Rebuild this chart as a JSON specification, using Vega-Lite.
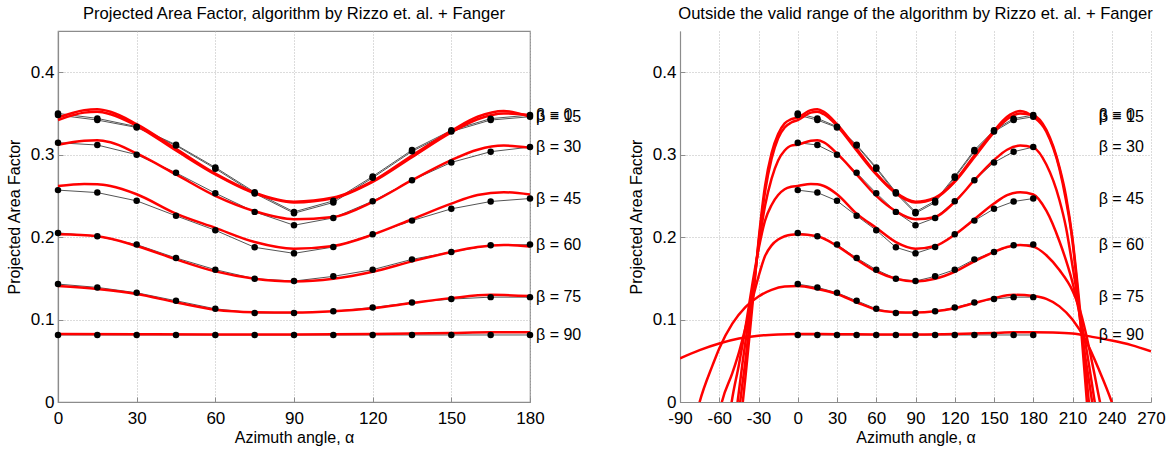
{
  "$schema": "https://vega.github.io/schema/vega-lite/v6.json",
  "background": "white",
  "padding": {"left": 5, "top": 5, "right": 5, "bottom": 5},
  "config": {
    "font": "Liberation Sans",
    "view": {"stroke": null},
    "title": {"fontSize": 16.6, "fontWeight": "normal", "font": "Liberation Sans", "offset": 8, "color": "black"},
    "axis": {
      "labelFont": "Liberation Sans", "titleFont": "Liberation Sans",
      "labelFontSize": 17, "titleFontSize": 16, "titleFontWeight": "normal",
      "labelColor": "black", "titleColor": "black", "labelOverlap": false, "labelFlush": false,
      "grid": true, "gridDash": [1, 2], "gridColor": "#b8b8b8", "gridWidth": 1,
      "domainColor": "#8c8c8c", "domainWidth": 1.2,
      "ticks": true, "tickSize": -5, "tickColor": "#8c8c8c", "titlePadding": 4
    }
  },
  "datasets": {
    "red": [
      {"b": 0, "a": -50, "v": -0.12}, {"b": 0, "a": -44, "v": -0.03}, {"b": 0, "a": -42, "v": 0}, {"b": 0, "a": -40, "v": 0.03}, {"b": 0, "a": -37, "v": 0.078}, {"b": 0, "a": -33, "v": 0.145}, {"b": 0, "a": -30, "v": 0.195}, {"b": 0, "a": -25, "v": 0.262}, {"b": 0, "a": -20, "v": 0.302}, {"b": 0, "a": -15, "v": 0.325}, {"b": 0, "a": -10, "v": 0.338}, {"b": 0, "a": -5, "v": 0.343}, {"b": 0, "a": 0, "v": 0.345}, {"b": 0, "a": 10, "v": 0.354}, {"b": 0, "a": 15, "v": 0.355}, {"b": 0, "a": 20, "v": 0.352}, {"b": 0, "a": 30, "v": 0.337}, {"b": 0, "a": 45, "v": 0.307}, {"b": 0, "a": 60, "v": 0.277}, {"b": 0, "a": 75, "v": 0.254}, {"b": 0, "a": 90, "v": 0.243}, {"b": 0, "a": 105, "v": 0.248}, {"b": 0, "a": 120, "v": 0.268}, {"b": 0, "a": 135, "v": 0.299}, {"b": 0, "a": 150, "v": 0.329}, {"b": 0, "a": 160, "v": 0.346}, {"b": 0, "a": 170, "v": 0.353}, {"b": 0, "a": 180, "v": 0.346}, {"b": 0, "a": 190, "v": 0.328}, {"b": 0, "a": 200, "v": 0.283}, {"b": 0, "a": 205, "v": 0.245}, {"b": 0, "a": 210, "v": 0.195}, {"b": 0, "a": 213, "v": 0.15}, {"b": 0, "a": 217, "v": 0.08}, {"b": 0, "a": 221, "v": 0}, {"b": 0, "a": 225, "v": -0.08}, {"b": 0, "a": 230, "v": -0.2},
      {"b": 15, "a": -50, "v": -0.1}, {"b": 15, "a": -44, "v": 0}, {"b": 15, "a": -40, "v": 0.05}, {"b": 15, "a": -37, "v": 0.092}, {"b": 15, "a": -33, "v": 0.148}, {"b": 15, "a": -30, "v": 0.192}, {"b": 15, "a": -25, "v": 0.255}, {"b": 15, "a": -20, "v": 0.295}, {"b": 15, "a": -15, "v": 0.32}, {"b": 15, "a": -10, "v": 0.333}, {"b": 15, "a": -5, "v": 0.339}, {"b": 15, "a": 0, "v": 0.342}, {"b": 15, "a": 10, "v": 0.351}, {"b": 15, "a": 15, "v": 0.352}, {"b": 15, "a": 20, "v": 0.349}, {"b": 15, "a": 30, "v": 0.335}, {"b": 15, "a": 45, "v": 0.305}, {"b": 15, "a": 60, "v": 0.276}, {"b": 15, "a": 75, "v": 0.253}, {"b": 15, "a": 90, "v": 0.242}, {"b": 15, "a": 105, "v": 0.247}, {"b": 15, "a": 120, "v": 0.267}, {"b": 15, "a": 135, "v": 0.297}, {"b": 15, "a": 150, "v": 0.327}, {"b": 15, "a": 160, "v": 0.343}, {"b": 15, "a": 170, "v": 0.35}, {"b": 15, "a": 180, "v": 0.348}, {"b": 15, "a": 190, "v": 0.33}, {"b": 15, "a": 200, "v": 0.285}, {"b": 15, "a": 205, "v": 0.25}, {"b": 15, "a": 210, "v": 0.198}, {"b": 15, "a": 214, "v": 0.14}, {"b": 15, "a": 218, "v": 0.075}, {"b": 15, "a": 222.5, "v": 0}, {"b": 15, "a": 227, "v": -0.08}, {"b": 15, "a": 232, "v": -0.2},
      {"b": 30, "a": -52, "v": -0.08}, {"b": 30, "a": -46, "v": 0}, {"b": 30, "a": -42, "v": 0.05}, {"b": 30, "a": -38, "v": 0.095}, {"b": 30, "a": -33, "v": 0.152}, {"b": 30, "a": -30, "v": 0.188}, {"b": 30, "a": -25, "v": 0.238}, {"b": 30, "a": -20, "v": 0.271}, {"b": 30, "a": -15, "v": 0.293}, {"b": 30, "a": -10, "v": 0.305}, {"b": 30, "a": -5, "v": 0.311}, {"b": 30, "a": 0, "v": 0.312}, {"b": 30, "a": 10, "v": 0.317}, {"b": 30, "a": 15, "v": 0.3175}, {"b": 30, "a": 20, "v": 0.315}, {"b": 30, "a": 30, "v": 0.3015}, {"b": 30, "a": 45, "v": 0.276}, {"b": 30, "a": 60, "v": 0.25}, {"b": 30, "a": 75, "v": 0.2314}, {"b": 30, "a": 90, "v": 0.2217}, {"b": 30, "a": 105, "v": 0.2245}, {"b": 30, "a": 120, "v": 0.2428}, {"b": 30, "a": 135, "v": 0.269}, {"b": 30, "a": 150, "v": 0.2934}, {"b": 30, "a": 160, "v": 0.306}, {"b": 30, "a": 170, "v": 0.311}, {"b": 30, "a": 180, "v": 0.3085}, {"b": 30, "a": 190, "v": 0.288}, {"b": 30, "a": 200, "v": 0.245}, {"b": 30, "a": 205, "v": 0.212}, {"b": 30, "a": 210, "v": 0.165}, {"b": 30, "a": 213, "v": 0.135}, {"b": 30, "a": 217, "v": 0.085}, {"b": 30, "a": 225, "v": 0}, {"b": 30, "a": 230, "v": -0.06}, {"b": 30, "a": 235, "v": -0.15},
      {"b": 45, "a": -56, "v": -0.07}, {"b": 45, "a": -50.5, "v": 0}, {"b": 45, "a": -45, "v": 0.045}, {"b": 45, "a": -40, "v": 0.09}, {"b": 45, "a": -35, "v": 0.14}, {"b": 45, "a": -30, "v": 0.185}, {"b": 45, "a": -25, "v": 0.22}, {"b": 45, "a": -20, "v": 0.239}, {"b": 45, "a": -15, "v": 0.251}, {"b": 45, "a": -10, "v": 0.258}, {"b": 45, "a": -5, "v": 0.261}, {"b": 45, "a": 0, "v": 0.262}, {"b": 45, "a": 10, "v": 0.2645}, {"b": 45, "a": 15, "v": 0.2642}, {"b": 45, "a": 20, "v": 0.262}, {"b": 45, "a": 30, "v": 0.252}, {"b": 45, "a": 45, "v": 0.2285}, {"b": 45, "a": 60, "v": 0.2112}, {"b": 45, "a": 75, "v": 0.194}, {"b": 45, "a": 90, "v": 0.186}, {"b": 45, "a": 105, "v": 0.1893}, {"b": 45, "a": 120, "v": 0.203}, {"b": 45, "a": 135, "v": 0.2217}, {"b": 45, "a": 150, "v": 0.2407}, {"b": 45, "a": 160, "v": 0.251}, {"b": 45, "a": 170, "v": 0.2545}, {"b": 45, "a": 180, "v": 0.2517}, {"b": 45, "a": 190, "v": 0.232}, {"b": 45, "a": 200, "v": 0.195}, {"b": 45, "a": 205, "v": 0.172}, {"b": 45, "a": 210, "v": 0.145}, {"b": 45, "a": 215, "v": 0.11}, {"b": 45, "a": 220, "v": 0.07}, {"b": 45, "a": 227, "v": 0}, {"b": 45, "a": 232, "v": -0.05}, {"b": 45, "a": 240, "v": -0.15},
      {"b": 60, "a": -65, "v": -0.06}, {"b": 60, "a": -58, "v": 0}, {"b": 60, "a": -50, "v": 0.035}, {"b": 60, "a": -45, "v": 0.06}, {"b": 60, "a": -40, "v": 0.09}, {"b": 60, "a": -35, "v": 0.122}, {"b": 60, "a": -30, "v": 0.152}, {"b": 60, "a": -25, "v": 0.177}, {"b": 60, "a": -20, "v": 0.19}, {"b": 60, "a": -15, "v": 0.197}, {"b": 60, "a": -10, "v": 0.201}, {"b": 60, "a": -5, "v": 0.203}, {"b": 60, "a": 0, "v": 0.2034}, {"b": 60, "a": 15, "v": 0.201}, {"b": 60, "a": 30, "v": 0.1893}, {"b": 60, "a": 45, "v": 0.173}, {"b": 60, "a": 60, "v": 0.1584}, {"b": 60, "a": 75, "v": 0.1495}, {"b": 60, "a": 90, "v": 0.1463}, {"b": 60, "a": 105, "v": 0.1495}, {"b": 60, "a": 120, "v": 0.158}, {"b": 60, "a": 135, "v": 0.1706}, {"b": 60, "a": 150, "v": 0.182}, {"b": 60, "a": 160, "v": 0.188}, {"b": 60, "a": 170, "v": 0.1905}, {"b": 60, "a": 180, "v": 0.1885}, {"b": 60, "a": 190, "v": 0.178}, {"b": 60, "a": 200, "v": 0.16}, {"b": 60, "a": 210, "v": 0.135}, {"b": 60, "a": 215, "v": 0.115}, {"b": 60, "a": 220, "v": 0.085}, {"b": 60, "a": 226, "v": 0.04}, {"b": 60, "a": 231, "v": 0}, {"b": 60, "a": 236, "v": -0.035}, {"b": 60, "a": 245, "v": -0.12},
      {"b": 75, "a": -85, "v": -0.07}, {"b": 75, "a": -75, "v": 0}, {"b": 75, "a": -65, "v": 0.045}, {"b": 75, "a": -60, "v": 0.065}, {"b": 75, "a": -50, "v": 0.095}, {"b": 75, "a": -40, "v": 0.115}, {"b": 75, "a": -30, "v": 0.128}, {"b": 75, "a": -20, "v": 0.136}, {"b": 75, "a": -10, "v": 0.14}, {"b": 75, "a": 0, "v": 0.1407}, {"b": 75, "a": 15, "v": 0.137}, {"b": 75, "a": 30, "v": 0.131}, {"b": 75, "a": 45, "v": 0.121}, {"b": 75, "a": 60, "v": 0.112}, {"b": 75, "a": 75, "v": 0.109}, {"b": 75, "a": 90, "v": 0.1085}, {"b": 75, "a": 105, "v": 0.11}, {"b": 75, "a": 120, "v": 0.1138}, {"b": 75, "a": 135, "v": 0.12}, {"b": 75, "a": 150, "v": 0.126}, {"b": 75, "a": 165, "v": 0.13}, {"b": 75, "a": 180, "v": 0.1285}, {"b": 75, "a": 190, "v": 0.125}, {"b": 75, "a": 200, "v": 0.116}, {"b": 75, "a": 210, "v": 0.1}, {"b": 75, "a": 220, "v": 0.075}, {"b": 75, "a": 230, "v": 0.04}, {"b": 75, "a": 240, "v": 0}, {"b": 75, "a": 248, "v": -0.04}, {"b": 75, "a": 260, "v": -0.12},
      {"b": 90, "a": -90, "v": 0.053}, {"b": 90, "a": -75, "v": 0.063}, {"b": 90, "a": -60, "v": 0.071}, {"b": 90, "a": -45, "v": 0.077}, {"b": 90, "a": -30, "v": 0.0805}, {"b": 90, "a": -15, "v": 0.082}, {"b": 90, "a": 0, "v": 0.0825}, {"b": 90, "a": 30, "v": 0.0822}, {"b": 90, "a": 60, "v": 0.082}, {"b": 90, "a": 90, "v": 0.082}, {"b": 90, "a": 120, "v": 0.0825}, {"b": 90, "a": 150, "v": 0.0838}, {"b": 90, "a": 165, "v": 0.0845}, {"b": 90, "a": 180, "v": 0.0845}, {"b": 90, "a": 195, "v": 0.0842}, {"b": 90, "a": 210, "v": 0.083}, {"b": 90, "a": 225, "v": 0.079}, {"b": 90, "a": 240, "v": 0.0745}, {"b": 90, "a": 255, "v": 0.069}, {"b": 90, "a": 270, "v": 0.0615}
    ],
    "fanger": [
      {"b": 0, "a": 0, "v": 0.35}, {"b": 0, "a": 15, "v": 0.344}, {"b": 0, "a": 30, "v": 0.334}, {"b": 0, "a": 45, "v": 0.312}, {"b": 0, "a": 60, "v": 0.2845}, {"b": 0, "a": 75, "v": 0.2545}, {"b": 0, "a": 90, "v": 0.2306}, {"b": 0, "a": 105, "v": 0.244}, {"b": 0, "a": 120, "v": 0.2736}, {"b": 0, "a": 135, "v": 0.3056}, {"b": 0, "a": 150, "v": 0.3295}, {"b": 0, "a": 165, "v": 0.3437}, {"b": 0, "a": 180, "v": 0.348},
      {"b": 15, "a": 0, "v": 0.348}, {"b": 15, "a": 15, "v": 0.342}, {"b": 15, "a": 30, "v": 0.333}, {"b": 15, "a": 45, "v": 0.311}, {"b": 15, "a": 60, "v": 0.283}, {"b": 15, "a": 75, "v": 0.253}, {"b": 15, "a": 90, "v": 0.229}, {"b": 15, "a": 105, "v": 0.242}, {"b": 15, "a": 120, "v": 0.272}, {"b": 15, "a": 135, "v": 0.304}, {"b": 15, "a": 150, "v": 0.328}, {"b": 15, "a": 165, "v": 0.342}, {"b": 15, "a": 180, "v": 0.346},
      {"b": 30, "a": 0, "v": 0.3145}, {"b": 30, "a": 15, "v": 0.3117}, {"b": 30, "a": 30, "v": 0.3}, {"b": 30, "a": 45, "v": 0.278}, {"b": 30, "a": 60, "v": 0.2533}, {"b": 30, "a": 75, "v": 0.2306}, {"b": 30, "a": 90, "v": 0.2144}, {"b": 30, "a": 105, "v": 0.2233}, {"b": 30, "a": 120, "v": 0.2436}, {"b": 30, "a": 135, "v": 0.269}, {"b": 30, "a": 150, "v": 0.2906}, {"b": 30, "a": 165, "v": 0.3036}, {"b": 30, "a": 180, "v": 0.3092},
      {"b": 45, "a": 0, "v": 0.257}, {"b": 45, "a": 15, "v": 0.254}, {"b": 45, "a": 30, "v": 0.244}, {"b": 45, "a": 45, "v": 0.2258}, {"b": 45, "a": 60, "v": 0.2083}, {"b": 45, "a": 75, "v": 0.1876}, {"b": 45, "a": 90, "v": 0.1803}, {"b": 45, "a": 105, "v": 0.188}, {"b": 45, "a": 120, "v": 0.2034}, {"b": 45, "a": 135, "v": 0.22}, {"b": 45, "a": 150, "v": 0.2343}, {"b": 45, "a": 165, "v": 0.2432}, {"b": 45, "a": 180, "v": 0.2468},
      {"b": 60, "a": 0, "v": 0.2051}, {"b": 60, "a": 15, "v": 0.201}, {"b": 60, "a": 30, "v": 0.1909}, {"b": 60, "a": 45, "v": 0.1747}, {"b": 60, "a": 60, "v": 0.1605}, {"b": 60, "a": 75, "v": 0.1495}, {"b": 60, "a": 90, "v": 0.1467}, {"b": 60, "a": 105, "v": 0.1524}, {"b": 60, "a": 120, "v": 0.1605}, {"b": 60, "a": 135, "v": 0.173}, {"b": 60, "a": 150, "v": 0.182}, {"b": 60, "a": 165, "v": 0.19}, {"b": 60, "a": 180, "v": 0.1909},
      {"b": 75, "a": 0, "v": 0.143}, {"b": 75, "a": 15, "v": 0.139}, {"b": 75, "a": 30, "v": 0.1325}, {"b": 75, "a": 45, "v": 0.1228}, {"b": 75, "a": 60, "v": 0.113}, {"b": 75, "a": 75, "v": 0.108}, {"b": 75, "a": 90, "v": 0.108}, {"b": 75, "a": 105, "v": 0.11}, {"b": 75, "a": 120, "v": 0.1146}, {"b": 75, "a": 135, "v": 0.1207}, {"b": 75, "a": 150, "v": 0.1248}, {"b": 75, "a": 165, "v": 0.1272}, {"b": 75, "a": 180, "v": 0.1272},
      {"b": 90, "a": 0, "v": 0.0813}, {"b": 90, "a": 15, "v": 0.0813}, {"b": 90, "a": 30, "v": 0.0813}, {"b": 90, "a": 45, "v": 0.0813}, {"b": 90, "a": 60, "v": 0.0813}, {"b": 90, "a": 75, "v": 0.0813}, {"b": 90, "a": 90, "v": 0.0813}, {"b": 90, "a": 105, "v": 0.0813}, {"b": 90, "a": 120, "v": 0.0813}, {"b": 90, "a": 135, "v": 0.0813}, {"b": 90, "a": 150, "v": 0.0813}, {"b": 90, "a": 165, "v": 0.0813}, {"b": 90, "a": 180, "v": 0.0813}
    ],
    "labels": [
      {"b": 0, "label": "β = 0"},
      {"b": 15, "label": "β = 15"},
      {"b": 30, "label": "β = 30"},
      {"b": 45, "label": "β = 45"},
      {"b": 60, "label": "β = 60"},
      {"b": 75, "label": "β = 75"},
      {"b": 90, "label": "β = 90"}
    ]
  },
  "bounds": "flush",
  "spacing": 150,
  "hconcat": [
    {
      "width": 472,
      "height": 371,
      "title": {"text": "Projected Area Factor, algorithm by Rizzo et. al. + Fanger"},
      "view": {"stroke": "#8c8c8c", "strokeWidth": 1.2},
      "layer": [
        {"data": {"name": "fanger"}, "mark": {"type": "line", "color": "#555555", "strokeWidth": 1},
         "encoding": {
           "x": {"field": "a", "type": "quantitative", "scale": {"domain": [0, 180], "nice": false},
                 "axis": {"values": [0, 30, 60, 90, 120, 150, 180], "tickCount": 20, "title": "Azimuth angle, α", "labelOverlap": false, "labelFlush": false, "labelPadding": 13, "titlePadding": 3}},
           "y": {"field": "v", "type": "quantitative", "scale": {"domain": [0, 0.45], "nice": false},
                 "axis": {"values": [0, 0.1, 0.2, 0.3, 0.4], "tickCount": 20, "format": "~g", "title": "Projected Area Factor", "titlePadding": 8, "labelOverlap": false, "labelPadding": 9}},
           "detail": {"field": "b"}}},
        {"data": {"name": "red"}, "transform": [{"filter": "datum.a >= 0 && datum.a <= 180"}],
         "mark": {"type": "line", "color": "#ff0000", "strokeWidth": 2.5, "interpolate": "monotone"},
         "encoding": {"x": {"field": "a", "type": "quantitative"}, "y": {"field": "v", "type": "quantitative"}, "detail": {"field": "b"}}},
        {"data": {"name": "fanger"}, "mark": {"type": "circle", "color": "black", "size": 42, "opacity": 1},
         "encoding": {"x": {"field": "a", "type": "quantitative"}, "y": {"field": "v", "type": "quantitative"}}},
        {"data": {"name": "fanger"},
         "transform": [{"filter": "datum.a == 180"}, {"lookup": "b", "from": {"data": {"name": "labels"}, "key": "b", "fields": ["label"]}}],
         "mark": {"type": "text", "align": "left", "baseline": "middle", "dx": 6, "fontSize": 16, "font": "Liberation Sans", "color": "black"},
         "encoding": {"x": {"field": "a", "type": "quantitative"}, "y": {"field": "v", "type": "quantitative"}, "text": {"field": "label"}}}
      ]
    },
    {
      "width": 471,
      "height": 371,
      "title": {"text": "Outside the valid range of the algorithm by Rizzo et. al. + Fanger"},
      "layer": [
        {"data": {"name": "fanger"}, "mark": {"type": "line", "color": "#555555", "strokeWidth": 1},
         "encoding": {
           "x": {"field": "a", "type": "quantitative", "scale": {"domain": [-90, 270], "nice": false},
                 "axis": {"values": [-90, -60, -30, 0, 30, 60, 90, 120, 150, 180, 210, 240, 270], "tickCount": 20, "title": "Azimuth angle, α", "labelOverlap": false, "labelFlush": false, "labelPadding": 13, "titlePadding": 3, "labelExpr": "replace(datum.label, '−', '-')"}},
           "y": {"field": "v", "type": "quantitative", "scale": {"domain": [0, 0.45], "nice": false},
                 "axis": {"values": [0, 0.1, 0.2, 0.3, 0.4], "tickCount": 20, "format": "~g", "title": "Projected Area Factor", "titlePadding": 8, "labelOverlap": false, "labelPadding": 9}},
           "detail": {"field": "b"}}},
        {"data": {"name": "red"}, "mark": {"type": "line", "color": "#ff0000", "strokeWidth": 2.5, "interpolate": "monotone", "clip": true},
         "encoding": {"x": {"field": "a", "type": "quantitative"}, "y": {"field": "v", "type": "quantitative"}, "detail": {"field": "b"}}},
        {"data": {"name": "fanger"}, "mark": {"type": "circle", "color": "black", "size": 42, "opacity": 1},
         "encoding": {"x": {"field": "a", "type": "quantitative"}, "y": {"field": "v", "type": "quantitative"}}},
        {"data": {"name": "fanger"},
         "transform": [{"filter": "datum.a == 180"}, {"lookup": "b", "from": {"data": {"name": "labels"}, "key": "b", "fields": ["label"]}}],
         "mark": {"type": "text", "align": "left", "baseline": "middle", "fontSize": 16, "font": "Liberation Sans", "color": "black"},
         "encoding": {"x": {"datum": 230, "type": "quantitative"}, "y": {"field": "v", "type": "quantitative"}, "text": {"field": "label"}}}
      ]
    }
  ]
}
